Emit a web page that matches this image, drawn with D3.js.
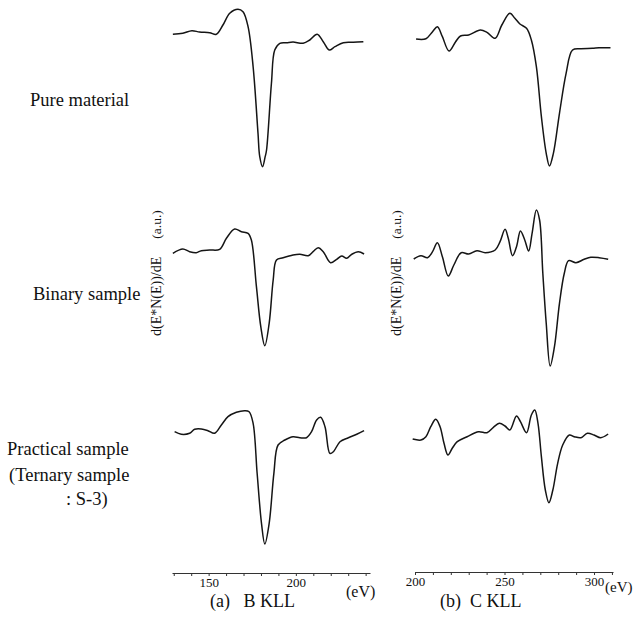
<!DOCTYPE html>
<html><head><meta charset="utf-8">
<script src="https://cdn.jsdelivr.net/npm/d3@7"></script>
<style>body{margin:0;background:#fff}svg{display:block}</style>
</head><body>
<script>
// ---- Data (intensities in arbitrary units) ----
const rowLabels = [["Pure material"], ["Binary sample"], ["Practical sample", "(Ternary sample", ": S-3)"]];
const captions = ["(a)   B KLL", "(b)  C KLL"];
const yLabel = "d(E*N(E))/dE";
const yUnit = "(a.u.)";
const bTicks = [130,140,150,160,170,180,190,200,210,220,230,240];
const bTickLabels = [150, 200];
const cTicks = [200,210,220,230,240,250,260,270,280,290,300,310];
const cTickLabels = [200, 250, 300];

const bPureE = [129.5,135.2,140.4,144.8,150.6,154.4,158.2,162.1,166.8,169.7,172.6,175.5,178.3,179.3,180.9,182.4,183.2,186,187.9,190.8,194.7,198.4,204.2,208,212.2,215.7,219.1,222.4,227.2,232.9,238.7];
const bPure  = [-0.3,0.7,3.3,2,1.3,-0.3,9,20.7,24.7,22.3,7.3,-32.7,-99.3,-122.7,-132.7,-122.7,-116,-49.3,-16,-9.3,-8.7,-8,-9.3,-6,-0.3,-7.7,-16,-12.7,-8.7,-8.3,-7.7];

const cPureE = [200.6,206.1,209.8,212.5,215.3,219,222.7,225.4,230,236.5,240.2,244.8,248.5,253,255.8,258.6,262.3,265,267.8,270.6,273.3,275.1,277.3,280.7,284.4,288,292.7,299.1,302.8,309.2];
const cPure  = [0,0.3,7.3,12.3,2.3,-12,-2.7,3,4,9,6.7,0.7,14,25.7,20.7,15,10.7,-1,-27.7,-77.7,-114.3,-127,-114.3,-74.3,-34.3,-11,-9.7,-9.3,-8.7,-8.7];

const bBinE = [129.5,135.2,139.1,142.9,145.8,150.6,156.3,160.2,164.9,168.8,172.6,174.5,177.4,179.9,182.2,184.7,187,188.9,192.7,198.4,202.3,207.1,209.9,212.8,215.7,219.9,223.4,226.3,229.1,232,235.8,239.1];
const bBin  = [-0.3,4,1.3,0.3,2.3,3,3.7,14.7,24,21.3,19.7,13,-33.7,-73.7,-92.7,-70.3,-27,-7,-4.7,-2,-1.3,-2.7,1.3,5.3,1.3,-9.7,-6.3,-3,-5.3,-1.3,1.3,-1];

const cBinE = [199.3,203.3,207,209.8,212.5,215.3,218.6,221.7,225.8,230,234.6,239.2,244.8,247.5,250.3,252.1,254.5,256.7,258.9,261.3,263.5,265.4,267.8,269.6,271.4,273.3,275.5,277.9,280.7,283.4,285.8,289.9,294.5,298.2,302.8,307.9];
const cBin  = [0,3.3,1.3,7.3,16.3,2.3,-17,-6,6.3,5,8.3,6.3,9,17.3,29.7,20.7,3.3,12.3,28,19,8,25.7,49,39,-14.3,-64.3,-107,-87.7,-44.3,-14.3,-1.7,-3.7,-0.3,1.7,1.3,-0.3];

const bTerE = [130.5,134.3,139.1,142,145.8,149.6,153.4,157.3,161.1,165.9,170.7,173.2,175.5,177.8,180.3,182.2,184.7,187.4,189.8,193.7,198.4,202.3,206.1,209,211.9,214.2,216.7,219.5,221.5,225.3,230.1,234.9,239.1];
const bTer  = [0.3,-2.3,-1.3,2.7,3,1.3,-1.3,7,15.3,19.7,21.3,20.3,8.7,-41.3,-91.3,-112,-91.3,-41.3,-13,-8,-4.7,-5.7,-5.7,0.3,12,14.7,5.3,-21.3,-19.7,-9.7,-5.7,-2.3,1.3];

const cTerE = [198.7,203.3,206.1,208.8,211.6,214,216.2,218.4,220.8,223.6,229.1,235.5,240.2,243.8,247.1,250.3,253,256.7,258.9,262.3,265,266.9,268.7,270.6,272.8,274.8,277,279.7,282.5,286.2,289,292.7,296.3,300,303.7,307.9];
const cTer  = [0,-1,2.3,12.3,19.7,12.3,-4.3,-16,-9.3,-2.7,2.3,7.3,6.3,11.7,15.7,13,9,23,17.3,6.3,24,29,15.7,-17.7,-51,-63.7,-51,-24.3,-6,4,2.3,1.3,5.7,4,1.3,5];

// ---- Layout ----
const FONT = "'Liberation Serif', 'DejaVu Serif', serif";
const W = 638, H = 633;
const svg = d3.select("body").append("svg").attr("width", W).attr("height", H)
  .style("font-family", FONT);

const xB = d3.scaleLinear().domain([129, 242.5]).range([172, 370]);
const xC = d3.scaleLinear().domain([200, 310.6]).range([415, 613]);

const panels = [
  {x: xB, E: bPureE, v: bPure, base: 34},
  {x: xC, E: cPureE, v: cPure, base: 39},
  {x: xB, E: bBinE, v: bBin, base: 253},
  {x: xC, E: cBinE, v: cBin, base: 259},
  {x: xB, E: bTerE, v: bTer, base: 432},
  {x: xC, E: cTerE, v: cTer, base: 439}
];

panels.forEach(p => {
  const y = d3.scaleLinear().domain([-140, 60]).range([p.base + 140, p.base - 60]);
  const pts = p.E.map((e, i) => [e, p.v[i]]);
  const line = d3.line().x(d => p.x(d[0])).y(d => y(d[1])).curve(d3.curveCatmullRom.alpha(0.5));
  svg.append("path").datum(pts).attr("d", line)
    .attr("fill", "none").attr("stroke", "#151515").attr("stroke-width", 1.5)
    .attr("stroke-linejoin", "round");
});

function txt(x, y, size, s) {
  return svg.append("text").attr("x", x).attr("y", y).attr("font-size", size)
    .attr("font-family", FONT).attr("fill", "#111").attr("xml:space", "preserve").text(s);
}

// Axes
function drawAxis(x, ticks, labels, yPos) {
  const g = svg.append("g").attr("transform", `translate(0,${yPos})`)
    .call(d3.axisBottom(x).tickValues(ticks).tickSize(3).tickSizeOuter(0)
      .tickFormat(d => labels.includes(d) ? d : ""));
  g.attr("font-family", FONT);
  g.select(".domain").attr("stroke", "#333").attr("stroke-width", 1);
  g.selectAll(".tick line").attr("stroke", "#333");
  g.selectAll(".tick text").attr("font-family", FONT).attr("font-size", 13).attr("fill", "#111").attr("dy", "0.6em");
  return g;
}
drawAxis(xB, bTicks, bTickLabels, 573);
drawAxis(xC, cTicks, cTickLabels, 572);

txt(346, 597, 16, "(eV)");
txt(605, 592, 15, "(eV)");

txt(210, 607, 18, captions[0]);
txt(440, 607, 18, captions[1]);

// Row labels
const rowPos = [[[30, 106]], [[33, 300]], [[7, 455], [9, 481], [66, 505]]];
rowLabels.forEach((lines, r) => {
  lines.forEach((t, k) => txt(rowPos[r][k][0], rowPos[r][k][1], 18.5, t));
});

// Y labels
[161, 401].forEach(xp => {
  const t = svg.append("text").attr("transform", `translate(${xp},336) rotate(-90)`)
    .attr("font-size", 14).attr("font-family", FONT).attr("fill", "#111");
  t.append("tspan").text(yLabel);
  t.append("tspan").attr("dx", 18).attr("font-size", 13.5).text(yUnit);
});
</script>
</body></html>
